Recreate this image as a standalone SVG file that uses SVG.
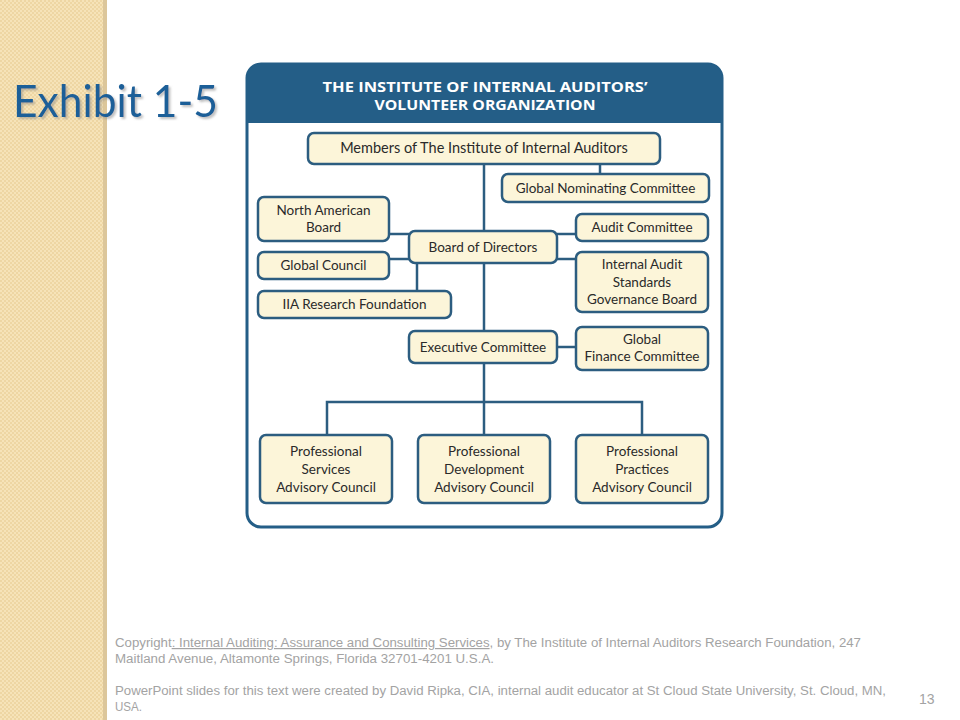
<svg xmlns="http://www.w3.org/2000/svg" width="960" height="720" viewBox="0 0 960 720">
<defs>
<pattern id="weave" x="0" y="0" width="4" height="4" patternUnits="userSpaceOnUse">
<rect width="4" height="4" fill="#f6e3b8"/>
<rect width="2" height="2" fill="#eed6a3"/>
<rect x="2" y="2" width="2" height="2" fill="#eed6a3"/>
</pattern>
<filter id="shadow" x="-10%" y="-20%" width="130%" height="150%">
<feDropShadow dx="2" dy="2" stdDeviation="1.2" flood-color="#8a8a8a" flood-opacity="0.55"/>
</filter>
<style>
.box{fill:#fcf5d9;stroke:#2c5d80;stroke-width:2.5}
.lbl{font-family:Lato,"Open Sans",sans-serif;font-size:13.5px;fill:#2a2a2a;text-anchor:middle}
.conn{stroke:#2c5d80;stroke-width:2.5;fill:none}
.foot{font-family:"Liberation Sans",Arial,sans-serif;font-size:12px;fill:#a3a3a3}
.hdr{font-family:"Open Sans","Liberation Sans",sans-serif;font-weight:bold;font-size:14px;fill:#ffffff;text-anchor:middle}
</style>
</defs>
<rect width="960" height="720" fill="#ffffff"/>
<rect x="0" y="0" width="103" height="720" fill="url(#weave)"/>
<rect x="103" y="0" width="4" height="720" fill="#dcc69a"/>

<text x="13" y="117" font-family="Lato,'Open Sans',sans-serif" font-size="44" fill="#1b5f98" textLength="205" lengthAdjust="spacingAndGlyphs" filter="url(#shadow)">Exhibit 1-5</text>

<g id="frame">
<rect x="247" y="64" width="475" height="463" rx="14" fill="#ffffff" stroke="#245e87" stroke-width="3"/>
<path d="M247,123 V78 A14,14 0 0 1 261,64 H708 A14,14 0 0 1 722,78 V123 Z" fill="#245e87"/>
<text class="hdr" x="485" y="92" textLength="325" lengthAdjust="spacingAndGlyphs">THE INSTITUTE OF INTERNAL AUDITORS’</text>
<text class="hdr" x="485" y="110" textLength="221" lengthAdjust="spacingAndGlyphs">VOLUNTEER ORGANIZATION</text>
</g>

<g id="connectors">
<line class="conn" x1="484" y1="164" x2="484" y2="231"/>
<line class="conn" x1="600" y1="164" x2="600" y2="174"/>
<line class="conn" x1="484" y1="263" x2="484" y2="331"/>
<line class="conn" x1="484" y1="363" x2="484" y2="435"/>
<polyline class="conn" points="327,435 327,402 642,402 642,435"/>
<line class="conn" x1="389" y1="234" x2="409" y2="234"/>
<line class="conn" x1="389" y1="259" x2="409" y2="259"/>
<line class="conn" x1="417" y1="263" x2="417" y2="291"/>
<line class="conn" x1="557" y1="234" x2="576" y2="234"/>
<line class="conn" x1="557" y1="259" x2="576" y2="259"/>
<line class="conn" x1="557" y1="347" x2="576" y2="347"/>
</g>

<g id="members">
<rect class="box" x="308" y="133" width="352" height="31" rx="6"/>
<text class="lbl" x="484" y="153" style="font-size:14.5px">Members of The Institute of Internal Auditors</text>
</g>
<g id="global-nominating">
<rect class="box" x="502" y="174" width="207" height="28" rx="6"/>
<text class="lbl" x="605.5" y="193">Global Nominating Committee</text>
</g>
<g id="north-american-board">
<rect class="box" x="258" y="197" width="131" height="44" rx="6"/>
<text class="lbl" x="323.5" y="215">North American</text>
<text class="lbl" x="323.5" y="232">Board</text>
</g>
<g id="board-of-directors">
<rect class="box" x="409" y="231" width="148" height="32" rx="6"/>
<text class="lbl" x="483" y="252">Board of Directors</text>
</g>
<g id="audit-committee">
<rect class="box" x="576" y="214" width="132" height="27" rx="6"/>
<text class="lbl" x="642" y="232">Audit Committee</text>
</g>
<g id="global-council">
<rect class="box" x="258" y="252" width="131" height="27" rx="6"/>
<text class="lbl" x="323.5" y="270">Global Council</text>
</g>
<g id="iasgb">
<rect class="box" x="576" y="252" width="132" height="60" rx="6"/>
<text class="lbl" x="642" y="269">Internal Audit</text>
<text class="lbl" x="642" y="286.5">Standards</text>
<text class="lbl" x="642" y="304">Governance Board</text>
</g>
<g id="iia-research">
<rect class="box" x="258" y="291" width="193" height="27" rx="6"/>
<text class="lbl" x="354.5" y="309">IIA Research Foundation</text>
</g>
<g id="executive-committee">
<rect class="box" x="409" y="331" width="148" height="32" rx="6"/>
<text class="lbl" x="483" y="352">Executive Committee</text>
</g>
<g id="global-finance">
<rect class="box" x="576" y="327" width="132" height="43" rx="6"/>
<text class="lbl" x="642" y="344">Global</text>
<text class="lbl" x="642" y="361">Finance Committee</text>
</g>
<g id="psac">
<rect class="box" x="260" y="435" width="132" height="68" rx="6"/>
<text class="lbl" x="326" y="456">Professional</text>
<text class="lbl" x="326" y="474">Services</text>
<text class="lbl" x="326" y="492">Advisory Council</text>
</g>
<g id="pdac">
<rect class="box" x="418" y="435" width="132" height="68" rx="6"/>
<text class="lbl" x="484" y="456">Professional</text>
<text class="lbl" x="484" y="474">Development</text>
<text class="lbl" x="484" y="492">Advisory Council</text>
</g>
<g id="ppac">
<rect class="box" x="576" y="435" width="132" height="68" rx="6"/>
<text class="lbl" x="642" y="456">Professional</text>
<text class="lbl" x="642" y="474">Practices</text>
<text class="lbl" x="642" y="492">Advisory Council</text>
</g>

<g id="footer">
<text class="foot" x="115" y="647" textLength="746" lengthAdjust="spacingAndGlyphs">Copyright<tspan text-decoration="underline">: Internal Auditing: Assurance and Consulting Services</tspan>, by The Institute of Internal Auditors Research Foundation, 247</text>
<text class="foot" x="115" y="663" textLength="379" lengthAdjust="spacingAndGlyphs">Maitland Avenue, Altamonte Springs, Florida 32701-4201  U.S.A.</text>
<text class="foot" x="115" y="695" textLength="771" lengthAdjust="spacingAndGlyphs">PowerPoint slides for this text were created by David Ripka, CIA, internal audit educator at St Cloud State University, St. Cloud, MN,</text>
<text class="foot" x="115" y="711" textLength="27" lengthAdjust="spacingAndGlyphs">USA.</text>
<text class="foot" x="919" y="704" style="font-size:14px">13</text>
</g>
</svg>
